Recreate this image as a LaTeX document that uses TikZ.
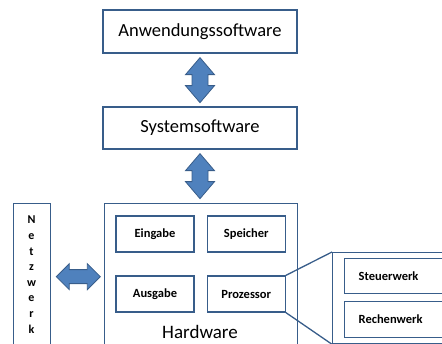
\documentclass[tikz,border=0pt]{standalone}
\usepackage{fontspec}
\setmainfont{Carlito}
\usetikzlibrary{shapes,calc,positioning}
\definecolor{rand}{RGB}{56,93,138}
\definecolor{pfeil}{RGB}{79,129,189}
\tikzset{box/.style={draw=rand, line width=1.3pt, rectangle, inner sep=0pt, font=\fontsize{18.5}{20}\selectfont}}
\tikzstyle{klein}=[box, font=\bfseries\fontsize{12.5}{14}\selectfont, minimum width=78pt, minimum height=36pt]
\tikzstyle{dpfeil}=[draw=rand, fill=pfeil, line width=0.8pt, line join=miter]

\begin{document}
\begin{tikzpicture}[x=1pt, y=-1pt]
\useasboundingbox (0,0) rectangle (442,344);
\clip (0,0) rectangle (442,344);
% Schichten
\node[box, minimum width=194pt, minimum height=43pt] (anw) at (200,31.5) {Anwendungssoftware};
\node[box, minimum width=194pt, minimum height=42pt] (sys) at (200,128) {Systemsoftware};
\node[box, minimum width=193pt, minimum height=160pt, anchor=north west] (hw) at (104,203) {};
\node[box, minimum width=37pt, minimum height=160pt, anchor=north west] (netz) at (13,203) {};
\node[font=\bfseries\fontsize{12}{15.6}\selectfont, align=center, anchor=north, inner sep=0pt] (netztext) at (31.5,216) {N\\e\\t\\z\\w\\e\\r\\k};
\node[font=\fontsize{19}{20}\selectfont, anchor=base, inner sep=0pt] (hwtext) at (200,339) {Hardware};
% Pfeile
\draw[dpfeil] ($(anw.south)+(0,4)$) -- ++(14.5,17) -- ++(-6.5,0) -- ++(0,11) -- ++(6.5,0) -- ++(-14.5,17)
   -- ++(-14.5,-17) -- ++(6.5,0) -- ++(0,-11) -- ++(-6.5,0) -- cycle;
\draw[dpfeil] ($(sys.south)+(0,4)$) -- ++(14.5,17) -- ++(-6.5,0) -- ++(0,11) -- ++(6.5,0) -- ++(-14.5,17)
   -- ++(-14.5,-17) -- ++(6.5,0) -- ++(0,-11) -- ++(-6.5,0) -- cycle;
\draw[dpfeil] ($(netz.east)+(5,-7)$) -- ++(13,-13) -- ++(0,6) -- ++(18,0) -- ++(0,-6) -- ++(13,13)
   -- ++(-13,13) -- ++(0,-6) -- ++(-18,0) -- ++(0,6) -- cycle;
% Bausteine
\node[klein] (ein) at (155,234) {Eingabe};
\node[klein, right=12pt of ein] (speicher) {Speicher};
\node[klein] (aus) at (155,294) {Ausgabe};
\node[klein, right=12pt of aus] (proz) {Prozessor};
% Prozessor im Detail
\node[box, minimum width=128pt, minimum height=91pt, anchor=north west] (cpu) at (332,252) {};
\node[klein, anchor=north west, text width=74pt, align=left, inner xsep=14pt, minimum width=0pt, minimum height=35pt] (steuer) at (344,258) {Steuerwerk};
\node[klein, anchor=north west, text width=74pt, align=left, inner xsep=14pt, minimum width=0pt, minimum height=36pt] (rechen) at (344,301) {Rechenwerk};
\draw[rand, line width=1.3pt] (proz.north east) -- (cpu.north west)
                              (proz.south east) -- (cpu.south west);
\end{tikzpicture}
\end{document}
